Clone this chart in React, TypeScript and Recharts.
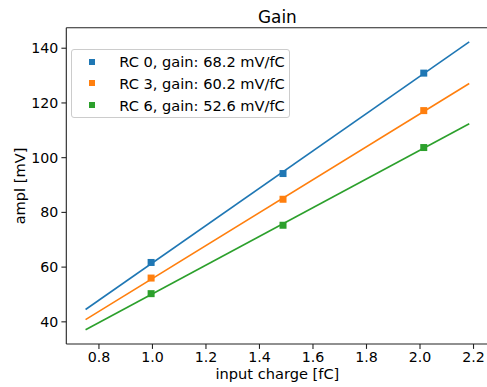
import React from 'react';
import { ComposedChart, Scatter, XAxis, YAxis, ReferenceLine } from 'recharts';

// measured points: input charge [fC] vs amplitude [mV]
const CHARGES = [0.995, 1.488, 2.014];
const RC0 = [61.7, 94.2, 130.9];
const RC3 = [56.0, 84.8, 117.2];
const RC6 = [50.3, 75.3, 103.7];

// linear fit end points
const FIT_X = [0.75, 2.184];
const FIT_RC0 = [44.5, 142.3];
const FIT_RC3 = [40.8, 127.1];
const FIT_RC6 = [37.1, 112.4];

const LABELS = ['RC 0, gain: 68.2 mV/fC', 'RC 3, gain: 60.2 mV/fC', 'RC 6, gain: 52.6 mV/fC'];
const COLORS = ['#1f77b4', '#ff7f0e', '#2ca02c'];

const X_TICKS = [0.8, 1.0, 1.2, 1.4, 1.6, 1.8, 2.0, 2.2];
const Y_TICKS = [40, 60, 80, 100, 120, 140];
const X_DOMAIN = [0.678, 2.256];
const Y_DOMAIN = [31.9, 147.5];

const FONT = '"DejaVu Sans", sans-serif';

const toPoints = (xs: number[], ys: number[]) => xs.map((x, i) => ({ x, y: ys[i] }));

const SERIES = [RC0, RC3, RC6].map((ys) => toPoints(CHARGES, ys));
const FITS = [FIT_RC0, FIT_RC3, FIT_RC6].map((ys) => toPoints(FIT_X, ys));

const Square = (props: any) => {
  const { cx, cy, fill } = props;
  if (cx == null || cy == null) return <g />;
  return <rect x={cx - 3.5} y={cy - 3.5} width={7} height={7} fill={fill} />;
};

const Nothing = () => <g />;

const tickStyle = { fontSize: 14.2, fontFamily: FONT, fill: '#000' };

const App: React.FC = () => {
  return (
    <div style={{ position: 'absolute', left: 0, top: 0, width: 487, height: 387, overflow: 'hidden', background: '#fff' }}>
      <ComposedChart
        width={500}
        height={387}
        margin={{ top: 27.7, right: 11.5, bottom: 0, left: 0 }}
      >
        <XAxis
          type="number"
          dataKey="x"
          domain={X_DOMAIN}
          ticks={X_TICKS}
          allowDataOverflow
          height={43}
          tick={tickStyle}
          tickFormatter={(v: number) => v.toFixed(1)}
          tickSize={4.9}
          tickMargin={3}
          axisLine={{ stroke: '#222', strokeWidth: 1.1 }}
          tickLine={{ stroke: '#222', strokeWidth: 1.1 }}
        />
        <YAxis
          type="number"
          dataKey="y"
          domain={Y_DOMAIN}
          ticks={Y_TICKS}
          allowDataOverflow
          width={66.3}
          tick={tickStyle}
          tickSize={4.9}
          tickMargin={3}
          axisLine={{ stroke: '#222', strokeWidth: 1.1 }}
          tickLine={{ stroke: '#222', strokeWidth: 1.1 }}
        />
        <ReferenceLine y={Y_DOMAIN[1]} stroke="#222" strokeWidth={1.1} />
        {FITS.map((d, i) => (
          <Scatter
            key={`fit-${i}`}
            data={d}
            fill={COLORS[i]}
            shape={Nothing}
            line={{ stroke: COLORS[i], strokeWidth: 1.6 }}
            isAnimationActive={false}
          />
        ))}
        {SERIES.map((d, i) => (
          <Scatter
            key={`pts-${i}`}
            name={LABELS[i]}
            data={d}
            fill={COLORS[i]}
            shape={Square}
            isAnimationActive={false}
          />
        ))}
        <text x={277.4} y={22.5} textAnchor="middle" fontSize={16.9} fontFamily={FONT} fill="#000">
          Gain
        </text>
        <text x={277.4} y={379} textAnchor="middle" fontSize={14.6} fontFamily={FONT} fill="#000">
          input charge [fC]
        </text>
        <text
          x={0}
          y={0}
          transform="translate(25 186) rotate(-90)"
          textAnchor="middle"
          fontSize={14.6}
          fontFamily={FONT}
          fill="#000"
        >
          ampl [mV]
        </text>
      </ComposedChart>
      <div
        style={{
          position: 'absolute',
          left: 71,
          top: 49.3,
          width: 219,
          height: 69,
          boxSizing: 'border-box',
          border: '1px solid #cccccc',
          borderRadius: 3,
          background: 'rgba(255,255,255,0.8)',
          fontFamily: FONT,
          fontSize: 14.6,
          color: '#000',
        }}
      >
        {LABELS.map((label, i) => (
          <div
            key={label}
            style={{ position: 'absolute', left: 0, top: 1.5 + i * 21.7, height: 20, display: 'flex', alignItems: 'center', whiteSpace: 'nowrap' }}
          >
            <span style={{ display: 'inline-block', width: 6, height: 6, background: COLORS[i], marginLeft: 17.3, marginRight: 24 }} />
            <span>{label}</span>
          </div>
        ))}
      </div>
    </div>
  );
};

export default App;
